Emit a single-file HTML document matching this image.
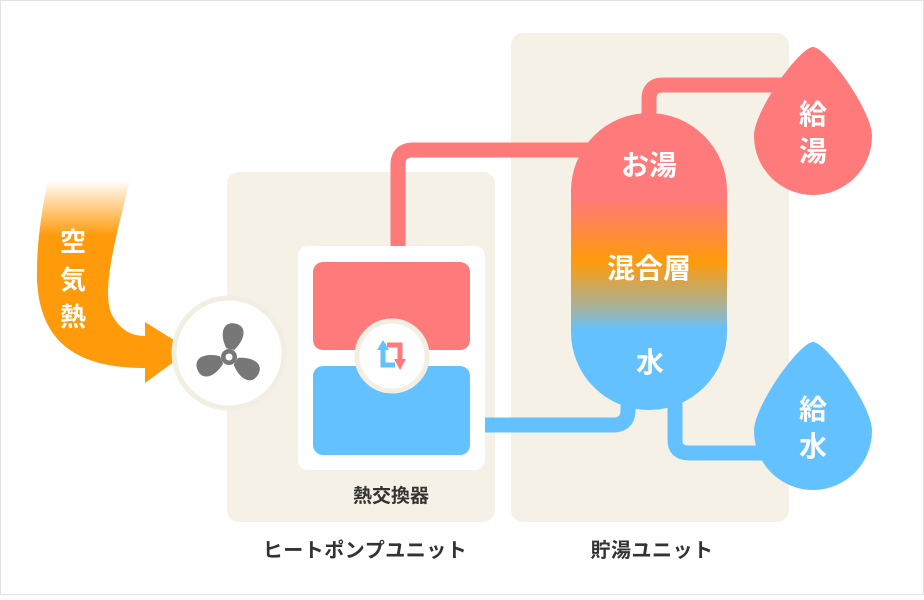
<!DOCTYPE html>
<html><head><meta charset="utf-8"><style>
html,body{margin:0;padding:0;background:#fff}
body{width:924px;height:595px;overflow:hidden}
</style></head><body>
<svg width="924" height="595" viewBox="0 0 924 595" xmlns="http://www.w3.org/2000/svg" font-family="'Liberation Sans','Noto Sans CJK JP',sans-serif" font-weight="bold">
<defs>
<linearGradient id="tank" x1="0" y1="113" x2="0" y2="410" gradientUnits="userSpaceOnUse">
<stop offset="0" stop-color="#ff7a7a"/>
<stop offset="0.29" stop-color="#ff7a7a"/>
<stop offset="0.5" stop-color="#ff9a0a"/>
<stop offset="0.67" stop-color="#9bb5ad"/>
<stop offset="0.73" stop-color="#64c1ff"/>
<stop offset="1" stop-color="#64c1ff"/>
</linearGradient>
<linearGradient id="air" x1="0" y1="180" x2="0" y2="250" gradientUnits="userSpaceOnUse">
<stop offset="0" stop-color="#ff9a0a" stop-opacity="0"/>
<stop offset="0.8" stop-color="#ff9a0a"/>
</linearGradient>
</defs>
<rect x="0.5" y="0.5" width="923" height="594" fill="#fff" stroke="#e2e2e2"/>
<rect x="227" y="172" width="268" height="350" rx="12" fill="#f6f1e6"/>
<rect x="511" y="33" width="278" height="489" rx="12" fill="#f6f1e6"/>
<g fill="none" stroke-width="15" stroke-linejoin="round">
<path d="M398 262 V165 Q398 150 413 150 H590" stroke="#ff7a7a"/>
<path d="M649 120 V99 Q649 85 663 85 H800" stroke="#ff7a7a"/>
<path d="M470 425 H613 Q628 425 628 410 V395" stroke="#64c1ff"/>
<path d="M675 395 V440 Q675 453 689 453 H780" stroke="#64c1ff"/>
</g>
<rect x="298" y="246" width="187" height="224" rx="10" fill="#fff"/>
<rect x="313" y="262" width="157" height="88" rx="10" fill="#ff7a7a"/>
<rect x="313" y="366" width="157" height="89" rx="10" fill="#64c1ff"/>
<circle cx="392" cy="356" r="35" fill="#fff" stroke="#f3eee2" stroke-width="5"/>
<path d="M386 346 H383 V365 H395" fill="none" stroke="#64c1ff" stroke-width="5"/>
<path d="M377 350 L383 340 L389 350 Z" fill="#64c1ff"/>
<path d="M387 345 H400 V360" fill="none" stroke="#ff7a7a" stroke-width="5"/>
<path d="M394 359 L400 370 L406 359 Z" fill="#ff7a7a"/>
<rect x="571" y="113" width="156" height="297" rx="78" fill="url(#tank)"/>
<path d="M813 47 C826 47 872 110 872 136 A59 59 0 1 1 754 136 C754 110 800 47 813 47 Z" fill="#ff7a7a"/>
<path d="M813 342 C826 342 872 405 872 431 A59 59 0 1 1 754 431 C754 405 800 342 813 342 Z" fill="#64c1ff"/>
<path d="M48 180 L130 180 C118 230 100 290 112 315 C122 333 135 336 145 336 L145 322 L190 350 L145 383 L145 368 C80 368 40 345 37 280 C36 240 44 200 48 180 Z" fill="url(#air)"/>
<circle cx="229" cy="353" r="55" fill="#fff" stroke="#f3eee2" stroke-width="5"/>
<g transform="translate(229 357)" fill="#777">
<g transform="rotate(10)"><path d="M-4 -8 C-13 -20 -13 -34 0 -34 C13 -34 13 -20 4 -8 Z"/></g>
<g transform="rotate(122)"><path d="M-4 -8 C-13 -20 -13 -34 0 -34 C13 -34 13 -20 4 -8 Z"/></g>
<g transform="rotate(248)"><path d="M-4 -8 C-13 -20 -13 -34 0 -34 C13 -34 13 -20 4 -8 Z"/></g>
<circle r="8"/><circle r="3.5" fill="#fff"/>
</g>
<g fill="#fff" font-size="26" text-anchor="middle">
<text x="73" y="251">空</text><text x="73" y="289">気</text><text x="73" y="326">熱</text>
</g>
<g fill="#fff" font-size="28" text-anchor="middle">
<text x="649" y="175">お湯</text>
<text x="649" y="278">混合層</text>
<text x="650" y="372">水</text>
<text x="813" y="124">給</text><text x="813" y="161">湯</text>
<text x="813" y="419">給</text><text x="813" y="456">水</text>
</g>
<g fill="#333" text-anchor="middle">
<text x="391" y="502" font-size="19">熱交換器</text>
<text x="365" y="557" font-size="20" letter-spacing="0.5">ヒートポンプユニット</text>
<text x="652" y="557" font-size="20" letter-spacing="0.5">貯湯ユニット</text>
</g>
</svg>
</body></html>
